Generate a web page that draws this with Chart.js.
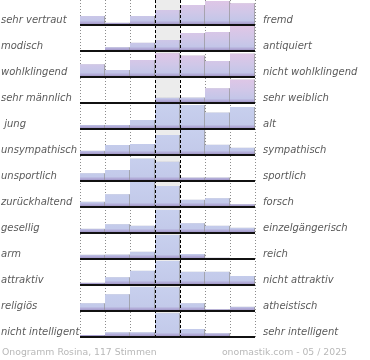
<!DOCTYPE html>
<html><head><meta charset="utf-8">
<script src="https://cdn.jsdelivr.net/npm/chart.js@4.4.1/dist/chart.umd.min.js"></script>
<style>
html,body{margin:0;padding:0;background:#fff;}
#wrap{position:relative;width:370px;height:360px;overflow:hidden;}
#c{position:absolute;left:0;top:0;}
.foot{position:absolute;top:346.6px;font:9.3px/1 "DejaVu Sans",sans-serif;color:#b8b8b8;white-space:nowrap;}
</style></head><body>
<div id="wrap"><canvas id="c" width="370" height="360"></canvas>
<div class="foot" style="left:2px">Onogramm Rosina, 117 Stimmen</div>
<div class="foot" style="right:23px">onomastik.com - 05 / 2025</div>
</div>
<script>
// ---- data ----
const columns = ['1','2','3','4','5','6','7'];
const leftLabels = ['sehr vertraut','modisch','wohlklingend','sehr männlich',' jung','unsympathisch','unsportlich','zurückhaltend','gesellig','arm','attraktiv','religiös','nicht intelligent'];
const rightLabels = ['fremd','antiquiert','nicht wohlklingend','sehr weiblich','alt','sympathisch','sportlich','forsch','einzelgängerisch','reich','nicht attraktiv','atheistisch','sehr intelligent'];

const vertrautFremd       = [9, 2.3, 9, 15, 20, 24, 21.7];
const modischAntiquiert   = [0, 3.7, 8.3, 11, 18, 19, 25];
const wohlklingend        = [12.7, 7, 17, 23.7, 21.5, 16, 23.5];
const maennlichWeiblich   = [0, 0, 0.5, 5.3, 5.5, 14.7, 23.5];
const jungAlt             = [4, 4, 9, 25, 24, 16.5, 22];
const sympathisch         = [4.3, 10, 11, 20, 25, 10.3, 7.3];
const sportlich           = [7.7, 11, 22.5, 19.3, 3.5, 3.5, 0];
const zurueckhaltendForsch= [5.3, 12.7, 25, 21, 7.3, 8.7, 2.7];
const geselligEinzel      = [4.3, 8.7, 7.3, 23, 9.7, 7.3, 5.3];
const armReich            = [4.3, 4.5, 7.3, 24, 5, 1.3, 0];
const attraktiv           = [2.3, 7.7, 14.3, 24, 13.3, 13.3, 9];
const religioesAtheist    = [7.7, 16.7, 24.3, 23.7, 7.7, 1.7, 4.3];
const intelligent         = [2, 4.7, 4.7, 23.7, 8, 3.7, 0];

const rows = [vertrautFremd, modischAntiquiert, wohlklingend, maennlichWeiblich, jungAlt, sympathisch,
  sportlich, zurueckhaltendForsch, geselligEinzel, armReich, attraktiv, religioesAtheist, intelligent];

// ---- layout of the stacked rows (scale units) ----
const ROW_PITCH = 26, ROW_DEPTH = 25;
const TOTAL = ROW_PITCH * rows.length;
const PINK_ROWS = 4;
const MID_COL = 3;
function baseOf(i){ return ROW_DEPTH + ROW_PITCH * i; }

const gradCache = {};
function rowFill(ctx){
  const chart = ctx.chart, i = ctx.datasetIndex;
  if (!chart.chartArea) return '#c6cdec';
  const ys = chart.scales.y;
  const key = i + ':' + chart.chartArea.top + ':' + chart.chartArea.bottom;
  if (gradCache[key]) return gradCache[key];
  const b = ys.getPixelForValue(baseOf(i));
  const t = ys.getPixelForValue(baseOf(i) - ROW_DEPTH);
  const g = chart.ctx.createLinearGradient(0, t, 0, b);
  if (i < PINK_ROWS) {
    g.addColorStop(0, '#e0c6e6');
    g.addColorStop(0.5, '#d0c7e8');
    g.addColorStop(0.82, '#c3c6e8');
    g.addColorStop(0.9, '#b3acd8');
    g.addColorStop(1, '#9a8dc0');
  } else {
    g.addColorStop(0, '#c8d0ee');
    g.addColorStop(0.82, '#c3caea');
    g.addColorStop(0.9, '#b2acd8');
    g.addColorStop(1, '#9a8dc0');
  }
  gradCache[key] = g;
  return g;
}

const datasets = rows.map((vals, i) => ({
  data: vals.map(v => [baseOf(i) - v, baseOf(i)]),
  grouped: false,
  barPercentage: 1,
  categoryPercentage: 1,
  backgroundColor: rowFill,
  borderColor: '#9a9a9a',
  borderWidth: {top: 0, right: 1, bottom: 0, left: 0},
  borderSkipped: false,
  yAxisID: 'y'
}));

const decor = {
  id: 'decor',
  beforeDatasetsDraw(chart){
    const {ctx, chartArea: a, scales: {x}} = chart;
    const half = (x.getPixelForValue(1) - x.getPixelForValue(0)) / 2;
    ctx.save();
    ctx.fillStyle = '#ececec';
    ctx.fillRect(x.getPixelForValue(MID_COL) - half, a.top, 2 * half, a.bottom - a.top);
    ctx.strokeStyle = '#8c8c8c';
    ctx.lineWidth = 1;
    ctx.setLineDash([1, 2]);
    for (let k = 0; k <= columns.length; k++) {
      if (k === MID_COL || k === MID_COL + 1) continue;
      const px = Math.round(x.getPixelForValue(k) - half) + 0.5;
      ctx.beginPath(); ctx.moveTo(px, a.top); ctx.lineTo(px, a.bottom); ctx.stroke();
    }
    ctx.restore();
    ctx.save();
    ctx.shadowColor = 'rgba(0,0,0,0.16)';
    ctx.shadowOffsetX = 0;
    ctx.shadowOffsetY = -1.5;
    ctx.shadowBlur = 0.5;
  },
  afterDatasetsDraw(chart){
    const {ctx, chartArea: a, scales: {x, y}} = chart;
    ctx.restore();
    const half = (x.getPixelForValue(1) - x.getPixelForValue(0)) / 2;
    ctx.save();
    ctx.strokeStyle = '#000';
    ctx.lineWidth = 1;
    ctx.setLineDash([3, 2]);
    [MID_COL, MID_COL + 1].forEach(k => {
      const px = Math.round(x.getPixelForValue(k) - half) + 0.5;
      ctx.beginPath(); ctx.moveTo(px, a.top); ctx.lineTo(px, a.bottom); ctx.stroke();
    });
    ctx.setLineDash([]);
    ctx.lineWidth = 2;
    ctx.strokeStyle = '#111';
    rows.forEach((r, i) => {
      const py = Math.round(y.getPixelForValue(baseOf(i)));
      ctx.beginPath(); ctx.moveTo(a.left, py); ctx.lineTo(a.right, py); ctx.stroke();
    });
    ctx.restore();
  }
};

const labelFont = {family: "'DejaVu Sans', sans-serif", size: 10, style: 'italic'};
function fitLabelAxis(width){
  return function(s){ s.width = width; s.paddingTop = 0; s.paddingBottom = 0; };
}

new Chart(document.getElementById('c'), {
  type: 'bar',
  data: {labels: columns, datasets},
  plugins: [decor],
  options: {
    responsive: false,
    animation: false,
    layout: {padding: {left: 1, right: 0, top: 0, bottom: 22}},
    plugins: {legend: {display: false}, tooltip: {enabled: false}},
    scales: {
      x: {type: 'category', display: false, offset: true},
      y: {type: 'linear', display: false, reverse: true, min: 0, max: TOTAL},
      yl: {
        type: 'category', position: 'left', labels: leftLabels, offset: true,
        grid: {display: false}, border: {display: false},
        ticks: {font: labelFont, color: '#5a5a5a', crossAlign: 'far', labelOffset: 7, autoSkip: false, padding: 0},
        afterFit: fitLabelAxis(79)
      },
      yr: {
        type: 'category', position: 'right', labels: rightLabels, offset: true,
        grid: {display: false}, border: {display: false},
        ticks: {font: labelFont, color: '#5a5a5a', crossAlign: 'near', labelOffset: 7, autoSkip: false, padding: 0},
        afterFit: fitLabelAxis(115)
      }
    }
  }
});
</script>
</body></html>
